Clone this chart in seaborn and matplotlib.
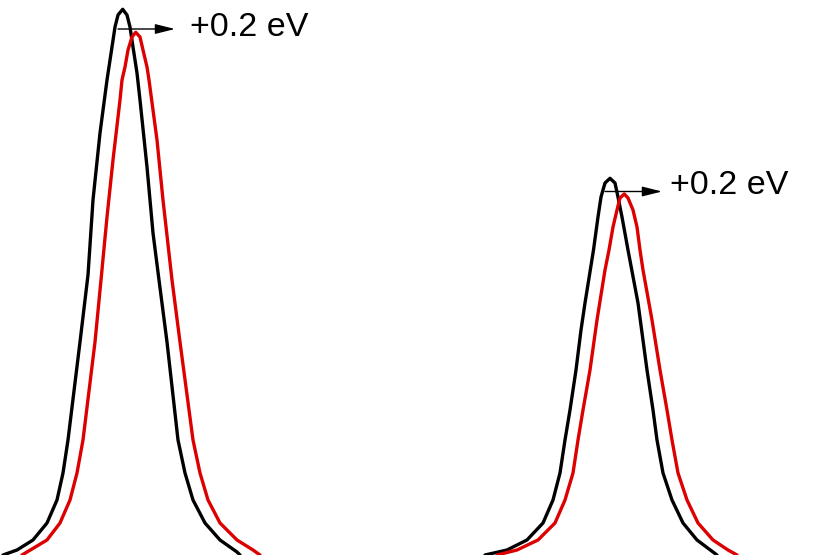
import pandas as pd
import matplotlib
matplotlib.use("Agg")
import matplotlib.pyplot as plt
import seaborn as sns

# peak curves (energy axis in arbitrary units, intensity in arbitrary units)
peak1_black_x = [3, 17, 33, 47, 57, 63, 68, 80, 88, 93, 100, 107, 112, 115, 118, 122.7,
                 127, 130, 133, 137, 140, 147, 153, 159, 167, 178, 185, 193, 205, 220, 237, 240]
peak1_black_y = [0, 5, 15, 32, 55, 82, 115, 213, 280, 355, 422, 475, 508, 528, 540, 545.7,
                 540, 528, 508, 482, 455, 388, 322, 275, 213, 115, 82, 55, 32, 15, 3, 0]

peak1_red_x = [22, 27, 47, 60, 70, 77, 83, 95, 101, 107, 113, 120, 122, 125, 128, 132, 135.7,
               140, 143, 147, 149, 157, 163, 172, 180, 193, 200, 208, 220, 237, 253, 260]
peak1_red_y = [0, 3, 15, 32, 55, 82, 115, 213, 275, 338, 395, 455, 475, 488, 505, 518, 522.7,
               518, 505, 488, 475, 415, 355, 275, 213, 115, 82, 55, 32, 15, 5, 0]

peak2_black_x = [485, 507, 527, 543, 553, 560, 565, 570, 576, 581, 585, 593.5, 598, 601, 605, 610,
                 615, 618, 622, 628, 638, 647, 653, 657, 663, 672, 683, 697, 713, 717]
peak2_black_y = [0, 5, 15, 32, 55, 82, 115, 145, 185, 225, 252, 305, 338, 358, 372, 376.7,
                 372, 358, 338, 305, 252, 185, 145, 115, 82, 55, 32, 15, 3, 0]

peak2_red_x = [497, 517, 538, 555, 565, 573, 578, 583, 590, 597, 605, 609, 613, 617, 620, 624.3,
               628, 633, 637, 640, 643, 652, 660, 667, 672, 678, 687, 698, 713, 728, 737]
peak2_red_y = [0, 5, 15, 32, 55, 82, 115, 145, 185, 235, 285, 305, 328, 345, 357, 361,
               357, 345, 328, 305, 285, 235, 185, 145, 115, 82, 55, 32, 15, 5, 0]

shift_label = "+0.2 eV"

sns.set_theme(style="white")
plt.rcParams['font.family'] = ['Liberation Sans', 'DejaVu Sans']

fig = plt.figure(figsize=(8.14, 5.55), dpi=100)
ax = fig.add_axes([0, 0, 1, 1])

curves = [
    (peak1_black_x, peak1_black_y, "black"),
    (peak1_red_x, peak1_red_y, "#dd0000"),
    (peak2_black_x, peak2_black_y, "black"),
    (peak2_red_x, peak2_red_y, "#dd0000"),
]
for xs, ys, col in curves:
    df = pd.DataFrame({"energy": xs, "intensity": ys})
    sns.lineplot(data=df, x="energy", y="intensity", color=col, linewidth=2.4,
                 estimator=None, sort=False, ax=ax, solid_joinstyle="round",
                 solid_capstyle="round")

# shift arrows + labels
for x0, y0, x1, tx, ty in [(118, 526, 175, 190, 528), (605, 363.5, 662, 670, 369)]:
    ax.annotate("", xy=(x1, y0), xytext=(x0, y0),
                arrowprops=dict(arrowstyle="-|>,head_length=0.8,head_width=0.2",
                                color="black", lw=1, mutation_scale=15,
                                shrinkA=0, shrinkB=0))
    ax.text(tx, ty, shift_label, fontsize=24.5, color="black", ha="left", va="center")

ax.set_xlim(0, 814)
ax.set_ylim(0, 555)
ax.set_axis_off()

plt.savefig("out.png", dpi=100, facecolor="white")
